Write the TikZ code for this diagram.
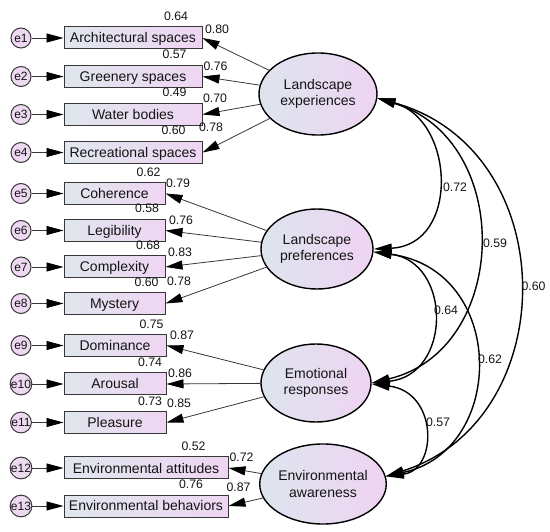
\documentclass[tikz,border=0pt]{standalone}
\usepackage{fontspec}
\setmainfont{Liberation Sans}
\usetikzlibrary{shapes.geometric,arrows.meta}
\definecolor{boxL}{RGB}{224,230,238}
\definecolor{boxR}{RGB}{238,214,242}
\definecolor{ellL}{RGB}{222,228,238}
\definecolor{ellR}{RGB}{238,212,242}
\definecolor{errfill}{RGB}{238,216,242}
\definecolor{lineg}{RGB}{55,55,55}
\definecolor{txt}{RGB}{20,20,20}
\begin{document}
\begin{tikzpicture}[x=1pt,y=-1pt,
  obs/.style={draw=lineg, line width=1pt, left color=boxL, right color=boxR,
    minimum height=22pt, inner sep=0pt, text height=10pt, text depth=0pt,
    font=\fontsize{14}{16}\selectfont, text=txt},
  lat/.style={ellipse, draw=black, line width=1.4pt, left color=ellL, right color=ellR,
    inner sep=0pt, align=center, font=\fontsize{14}{16.7}\selectfont, text=txt},
  err/.style={circle, draw=lineg, line width=1pt, fill=errfill, minimum size=20pt,
    inner sep=0pt, font=\fontsize{12}{12}\selectfont, text=txt},
  num/.style={inner sep=0pt, font=\fontsize{12.3}{13}\selectfont, text=txt},
  earr/.style={draw=lineg, line width=0.9pt, -{Triangle[length=17pt,width=9pt,color=black]}},
  load/.style={draw=lineg, line width=0.8pt, -{Triangle[length=17pt,width=9pt,color=black]}},
  cov/.style={draw=black, line width=1.4pt,
    {Triangle[length=18pt,width=9pt]}-{Triangle[length=18pt,width=9pt]}}
]
\useasboundingbox (0,0) rectangle (550,532);

% latent variables
\node[lat, minimum width=118pt, minimum height=82pt] (LE) at (318,94) {Landscape\\experiences};
\node[lat, minimum width=112pt, minimum height=80pt] (LP) at (317,249) {Landscape\\preferences};
\node[lat, minimum width=110pt, minimum height=78pt] (ER) at (316,383) {Emotional\\responses};
\node[lat, minimum width=120pt, minimum height=80pt] (EA) at (323,484) {Environmental\\awareness};

% observed variables
\node[obs, minimum width=138pt] (B1) at (133,38) {Architectural spaces};
\node[obs, minimum width=138pt] (B2) at (133,76.5) {Greenery spaces};
\node[obs, minimum width=138pt] (B3) at (133,114.5) {Water bodies};
\node[obs, minimum width=138pt] (B4) at (133,152.5) {Recreational spaces};
\node[obs, minimum width=101pt] (B5) at (114.5,193.5) {Coherence};
\node[obs, minimum width=101pt] (B6) at (114.5,230.5) {Legibility};
\node[obs, minimum width=101pt] (B7) at (114.5,267) {Complexity};
\node[obs, minimum width=101pt] (B8) at (114.5,303.5) {Mystery};
\node[obs, minimum width=102pt] (B9) at (115,345.5) {Dominance};
\node[obs, minimum width=102pt] (B10) at (115,384) {Arousal};
\node[obs, minimum width=102pt] (B11) at (115,422.5) {Pleasure};
\node[obs, minimum width=164pt] (B12) at (146,468) {Environmental attitudes};
\node[obs, minimum width=164pt] (B13) at (146,506) {Environmental behaviors};

% error terms
\node[err] (e1) at (21,38) {e1};
\node[err] (e2) at (21,76.5) {e2};
\node[err] (e3) at (21,114.5) {e3};
\node[err] (e4) at (21,152.5) {e4};
\node[err] (e5) at (21,193.5) {e5};
\node[err] (e6) at (21,230.5) {e6};
\node[err] (e7) at (21,267) {e7};
\node[err] (e8) at (21,303.5) {e8};
\node[err] (e9) at (21,345.5) {e9};
\node[err] (e10) at (21,384) {e10};
\node[err] (e11) at (21,422.5) {e11};
\node[err] (e12) at (21,468) {e12};
\node[err] (e13) at (21,506) {e13};

\foreach \i in {1,...,13} { \draw[earr] (e\i) -- (B\i); }

% loadings
\foreach \b in {B1,B2,B3,B4} { \draw[load] (LE) -- (\b.east); }
\foreach \b in {B5,B6,B7,B8} { \draw[load] (LP) -- (\b.east); }
\foreach \b in {B9,B10,B11} { \draw[load] (ER) -- (\b.east); }
\foreach \b in {B12,B13} { \draw[load] (EA) -- (\b.east); }

% squared multiple correlations
\node[num] (r1) at (176,16.5) {0.64};
\node[num] (r2) at (174.5,54.5) {0.57};
\node[num] (r3) at (174.5,92.5) {0.49};
\node[num] (r4) at (173.5,130.5) {0.60};
\node[num] (r5) at (148.5,172.5) {0.62};
\node[num] (r6) at (147,208.5) {0.58};
\node[num] (r7) at (148,245.5) {0.68};
\node[num] (r8) at (146.5,282) {0.60};
\node[num] (r9) at (151.5,324) {0.75};
\node[num] (r10) at (150,362.5) {0.74};
\node[num] (r11) at (150,401.5) {0.73};
\node[num] (r12) at (193.5,446.5) {0.52};
\node[num] (r13) at (191,484.5) {0.76};

% loading labels
\node[num] (l1) at (217,29) {0.80};
\node[num] (l2) at (215.5,66.5) {0.76};
\node[num] (l3) at (215,98.5) {0.70};
\node[num] (l4) at (211,127.5) {0.78};
\node[num] (l5) at (178,183.5) {0.79};
\node[num] (l6) at (181,220.5) {0.76};
\node[num] (l7) at (180,252.5) {0.83};
\node[num] (l8) at (179,281.5) {0.78};
\node[num] (l9) at (182,335.5) {0.87};
\node[num] (l10) at (180,373.5) {0.86};
\node[num] (l11) at (179,403.5) {0.85};
\node[num] (l12) at (241.5,457.5) {0.72};
\node[num] (l13) at (238.5,487.5) {0.87};

% covariances
\draw[cov] (LE.-4) .. controls (455,120) and (460,245) .. (LP.east);
\draw[cov] (LE.-4) .. controls (515,140) and (510,350) .. (ER.east);
\draw[cov] (LE.-4) .. controls (564,150) and (564,420) .. (EA.7);
\draw[cov] (LP.-3) .. controls (452,262) and (452,375) .. (ER.east);
\draw[cov] (LP.-3) .. controls (507,270) and (507,450) .. (EA.7);
\draw[cov] (ER.-1) .. controls (438,392) and (438,470) .. (EA.7);

\node[num] (c1) at (455,187.5) {0.72};
\node[num] (c2) at (495,243.5) {0.59};
\node[num] (c3) at (533.5,286.5) {0.60};
\node[num] (c4) at (446,310.5) {0.64};
\node[num] (c5) at (490,359.5) {0.62};
\node[num] (c6) at (438,422.5) {0.57};
\end{tikzpicture}
\end{document}
